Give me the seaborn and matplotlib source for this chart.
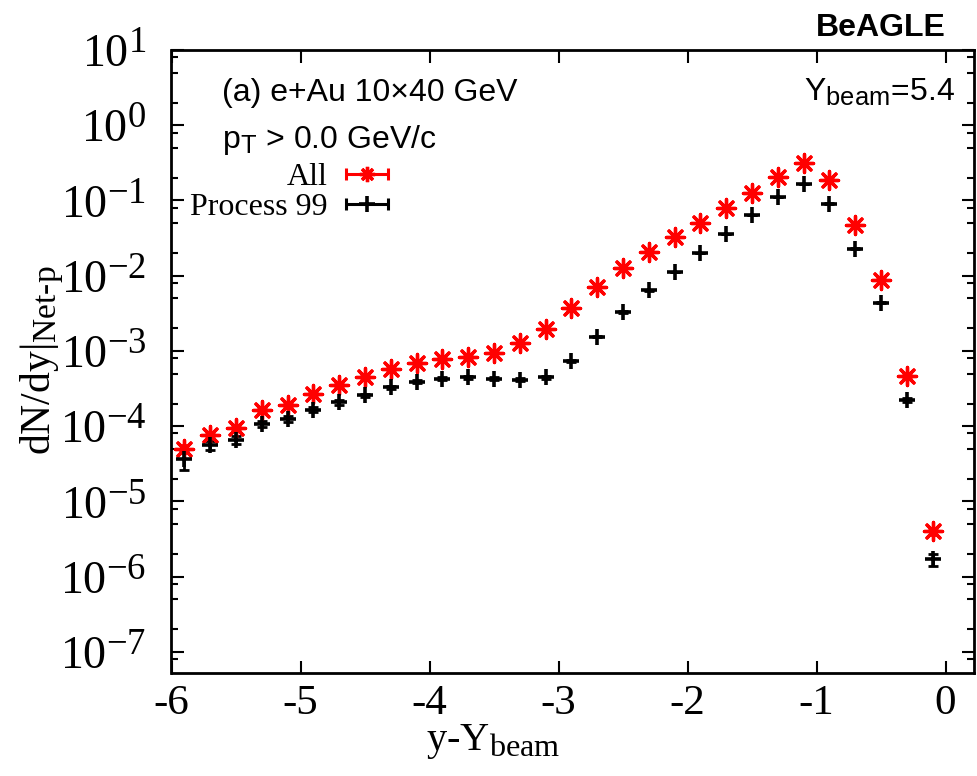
import numpy as np
import pandas as pd
import matplotlib
matplotlib.use("Agg")
import matplotlib.pyplot as plt
import matplotlib._mathtext as _mt
import seaborn as sns
from matplotlib.lines import Line2D
from matplotlib.legend_handler import HandlerBase
from matplotlib.ticker import FixedLocator, LogLocator, NullFormatter

# ---------------- data ----------------
y_rel = [-5.9, -5.7, -5.5, -5.3, -5.1, -4.9, -4.7, -4.5, -4.3, -4.1,
         -3.9, -3.7, -3.5, -3.3, -3.1, -2.9, -2.7, -2.5, -2.3, -2.1,
         -1.9, -1.7, -1.5, -1.3, -1.1, -0.9, -0.7, -0.5, -0.3, -0.1]

all_vals = [5.0e-5, 7.6e-5, 9.6e-5, 1.63e-4, 1.9e-4, 2.72e-4, 3.5e-4, 4.5e-4, 5.7e-4, 6.95e-4,
            7.8e-4, 8.4e-4, 9.5e-4, 1.26e-3, 1.95e-3, 3.67e-3, 7.1e-3, 1.27e-2, 2.09e-2, 3.3e-2,
            5.06e-2, 7.85e-2, 0.126, 0.206, 0.317, 0.19, 0.047, 8.9e-3, 4.6e-4, 4.0e-6]
all_err = [6e-6, 7e-6, 8e-6, 1.0e-5, 1.1e-5, 1.3e-5, 1.5e-5, 1.7e-5, 1.9e-5, 2.1e-5,
           2.2e-5, 2.3e-5, 2.4e-5, 2.8e-5, 3.5e-5, 4.8e-5, 6.7e-5, 9e-5, 1.2e-4, 1.5e-4,
           1.8e-4, 2.3e-4, 2.9e-4, 3.7e-4, 4.6e-4, 3.5e-4, 1.7e-4, 7.5e-5, 1.7e-5, 4e-7]

p99_vals = [3.7e-5, 5.6e-5, 6.6e-5, 1.07e-4, 1.26e-4, 1.66e-4, 2.08e-4, 2.57e-4, 3.3e-4, 3.9e-4,
            4.3e-4, 4.5e-4, 4.3e-4, 4.15e-4, 4.45e-4, 7.4e-4, 1.55e-3, 3.3e-3, 6.4e-3, 1.12e-2,
            1.99e-2, 3.57e-2, 6.4e-2, 0.112, 0.166, 0.091, 0.023, 4.37e-3, 2.26e-4, 1.7e-6]
p99_err = [1.1e-5, 8e-6, 8e-6, 1.0e-5, 1.1e-5, 1.2e-5, 1.4e-5, 1.5e-5, 1.7e-5, 1.9e-5,
           2.0e-5, 2.0e-5, 2.0e-5, 2.0e-5, 2.1e-5, 2.6e-5, 4e-5, 5.5e-5, 8e-5, 1.0e-4,
           1.4e-4, 1.8e-4, 2.4e-4, 3.2e-4, 3.9e-4, 2.9e-4, 1.4e-4, 6e-5, 1.4e-5, 3e-7]

series_names = ["All", "Process 99"]
series_colors = ["#ff0000", "#000000"]

x_ticks = [-6, -5, -4, -3, -2, -1, 0]
x_ticklabels = ["-6", "-5", "-4", "-3", "-2", "-1", "0"]
y_exps = [1, 0, -1, -2, -3, -4, -5, -6, -7]

df = pd.DataFrame({
    "y": y_rel * 2,
    "dndy": all_vals + p99_vals,
    "err": all_err + p99_err,
    "series": [series_names[0]] * len(y_rel) + [series_names[1]] * len(y_rel),
})

# ---------------- style ----------------
sns.set_theme(style="ticks")
plt.rcParams["font.family"] = ["Liberation Serif", "DejaVu Serif"]
plt.rcParams["mathtext.fontset"] = "custom"
plt.rcParams["mathtext.rm"] = "Liberation Serif"
plt.rcParams["axes.unicode_minus"] = False
plt.rcParams["text.color"] = "black"
plt.rcParams["axes.labelcolor"] = "black"
plt.rcParams["xtick.color"] = "black"
plt.rcParams["ytick.color"] = "black"
_mt.SHRINK_FACTOR = 0.8  # gnuplot-like larger sub/superscripts

W, H = 978, 776
fig = plt.figure(figsize=(W / 100, H / 100), dpi=100)
ax = fig.add_axes([171.5 / W, 1 - 673 / H, (974 - 171.5) / W, (673 - 50) / H])

markers = {"All": (8, 2, 0), "Process 99": "+"}
sizes = {"All": 170, "Process 99": 140}
lws = {"All": 2.4, "Process 99": 2.6}

for name, col in zip(series_names, series_colors):
    sub = df[df["series"] == name]
    ax.errorbar(sub["y"], sub["dndy"], yerr=sub["err"], fmt="none",
                ecolor=col, elinewidth=2.0, capsize=3.5, capthick=2.0, zorder=2)
    sns.scatterplot(data=sub, x="y", y="dndy", marker=markers[name], s=sizes[name],
                    color=col, edgecolor=None, linewidth=lws[name], ax=ax, zorder=3,
                    legend=False)

ax.set_yscale("log")
ax.set_xlim(-6, 0.22)
ax.set_ylim(10 ** -7.28, 10 ** 1)

ax.set_xticks(x_ticks)
ax.set_xticklabels(x_ticklabels)
ax.yaxis.set_major_locator(FixedLocator([10.0 ** e for e in y_exps]))
ax.set_yticklabels([r"$\mathdefault{10^{%d}}$" % e for e in y_exps])
ax.yaxis.set_minor_locator(LogLocator(base=10, subs=(2.0, 5.0, 8.0), numticks=30))
ax.yaxis.set_minor_formatter(NullFormatter())

ax.tick_params(axis="both", which="both", direction="in", top=True, right=True,
               colors="black", width=1.5)
ax.tick_params(axis="both", which="major", length=9)
ax.tick_params(axis="y", which="major", pad=18, labelsize=33)
ax.tick_params(axis="x", which="major", pad=8, labelsize=31)
ax.tick_params(axis="y", which="minor", length=5)
for sp in ax.spines.values():
    sp.set_linewidth(2.0)
    sp.set_color("black")

ax.set_xlabel(r"y-Y$_{\mathdefault{beam}}$", fontsize=29, color="black")
ax.xaxis.set_label_coords((493 - 171.5) / 802.5, (673 - 722) / 623)
ax.set_ylabel(r"dN/dy|$_{\mathdefault{Net‐p}}$", fontsize=30, color="black")
ax.yaxis.set_label_coords((66 - 171.5) / 802.5, (673 - 360) / 623)

sans = ["Liberation Sans", "DejaVu Sans"]
ax.text(222 / W, 1 - 93 / H, "(a) e+Au 10×40 GeV", transform=fig.transFigure,
        fontsize=23, family=sans, ha="left", va="center", color="black")
ax.text(222 / W, 1 - 140 / H, r"p$_{\mathdefault{T}}$ > 0.0 GeV/c", transform=fig.transFigure,
        fontsize=23, family=sans, ha="left", va="center", color="black")
ax.text(955 / W, 1 - 92 / H, r"Y$_{\mathdefault{beam}}$=5.4", transform=fig.transFigure,
        fontsize=23, family=sans, ha="right", va="center", color="black")
fig.text(946 / W, 1 - 28 / H, "BeAGLE", fontsize=23, family=sans, weight="bold",
         ha="right", va="center", color="black")


class HandlerXErr(HandlerBase):
    def create_artists(self, legend, orig_handle, xdescent, ydescent, width, height,
                       fontsize, trans):
        y = (height - ydescent) / 2
        x0, x1 = -xdescent, width - xdescent
        c = orig_handle.get_color()
        bar = Line2D([x0, x1], [y, y], color=c, lw=2.2)
        caps = Line2D([x0, x1], [y, y], ls="none", marker="|", markersize=9,
                      markeredgewidth=2.2, color=c)
        mk = Line2D([(x0 + x1) / 2], [y], ls="none", marker=orig_handle.get_marker(),
                    markersize=orig_handle.get_markersize(),
                    markeredgewidth=orig_handle.get_markeredgewidth(), color=c)
        for a in (bar, caps, mk):
            a.set_transform(trans)
        return [bar, caps, mk]


handles = [Line2D([], [], color=c, marker=markers[n], markersize=11,
                  markeredgewidth=lws[n], ls="none")
           for n, c in zip(series_names, series_colors)]
leg = ax.legend(handles, series_names, handler_map={Line2D: HandlerXErr()},
                markerfirst=False, frameon=False, fontsize=23,
                handlelength=1.3, handletextpad=0.6, labelspacing=0.0,
                borderpad=0, borderaxespad=0,
                loc="upper right", bbox_to_anchor=(388 / W, 1 - 163 / H),
                bbox_transform=fig.transFigure)
for t in leg.get_texts():
    t.set_color("black")

fig.savefig("out.png", dpi=100)
